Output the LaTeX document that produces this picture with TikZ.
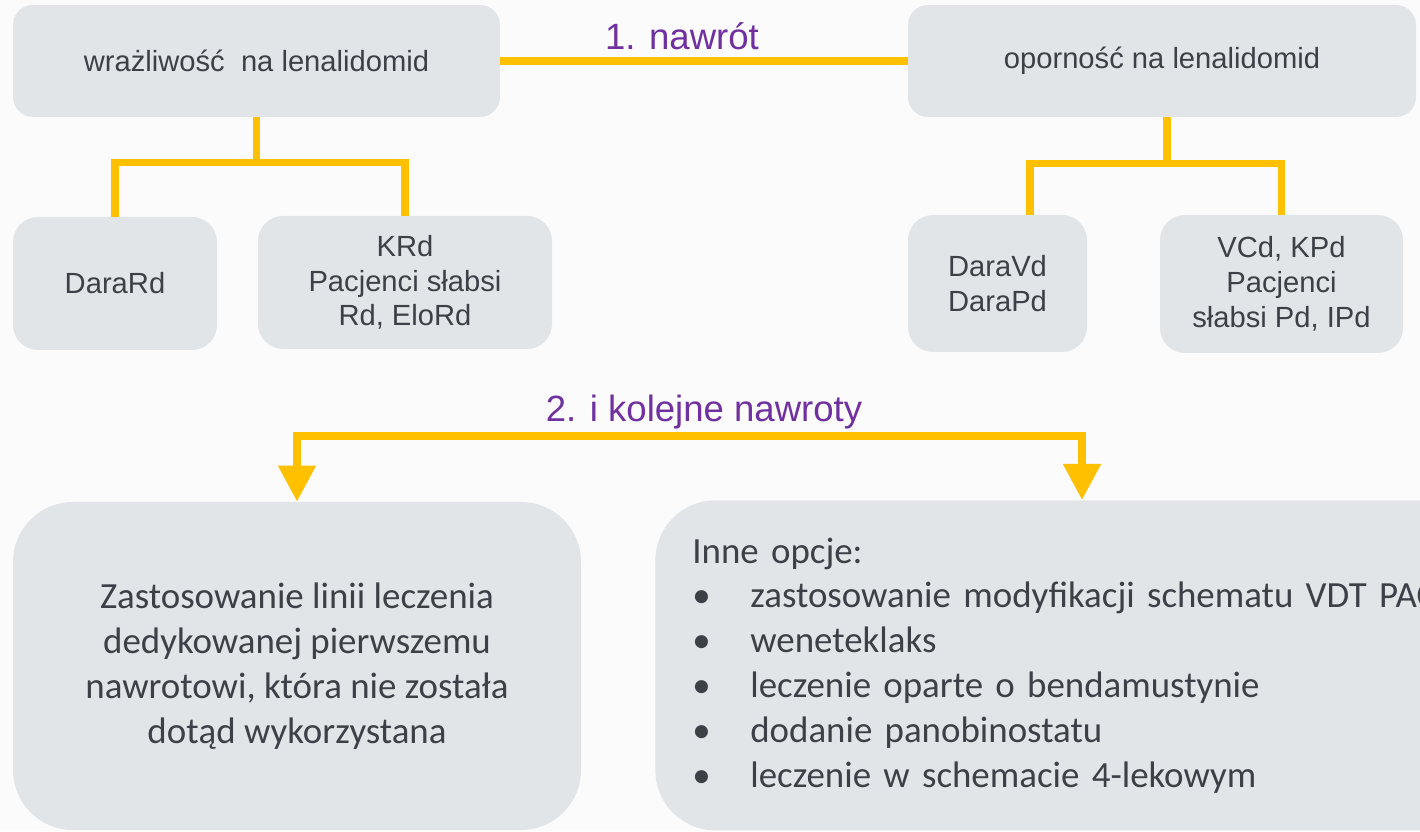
\documentclass[tikz,border=0pt]{standalone}
\usepackage{fontspec}
\setmainfont{Liberation Sans}
\newfontfamily\calibri{Carlito}
\usetikzlibrary{arrows.meta}

\definecolor{boxgray}{HTML}{E2E5E8}
\definecolor{inkgray}{HTML}{3C4047}
\definecolor{lineyellow}{HTML}{FFC000}
\definecolor{relapsepurple}{HTML}{7030A0}
\definecolor{pagebg}{HTML}{FBFBFB}

\begin{document}
\begin{tikzpicture}[
    lenbox/.style={rectangle, rounded corners=0.4cm, fill=boxgray, text=inkgray, align=center, inner sep=0pt, font=\fontsize{16.6}{19.8}\selectfont},
    regimen/.style={lenbox, rounded corners=0.5cm},
    bigbox/.style={rectangle, rounded corners=1.2cm, fill=boxgray, text=inkgray, inner sep=0pt, font=\calibri\fontsize{21}{25.5}\selectfont},
    link/.style={draw=lineyellow, line width=4pt},
    fork/.style={draw=lineyellow, line width=4.5pt, {Triangle[length=0.72cm,width=0.72cm]}-{Triangle[length=0.72cm,width=0.72cm]}},
    relapse/.style={text=relapsepurple, font=\fontsize{20.8}{25}\selectfont}
]

% tlo
\useasboundingbox (0,0) rectangle (28.4,16.62);
\clip (0,0) rectangle (28.4,16.62);
\fill[pagebg] (0,0) rectangle (28.4,16.62);

% gorny rzad
\node[lenbox, minimum width=9.74cm, minimum height=2.24cm] (wraz) at (5.13,15.40) {wrażliwość~ na lenalidomid};
\node[lenbox, minimum width=10.16cm, minimum height=2.24cm] (opor) at (23.24,15.40) {oporność na lenalidomid};

% schematy leczenia
\node[regimen, minimum width=4.08cm, minimum height=2.66cm] (darard) at (2.30,10.95) {DaraRd};
\node[regimen, minimum width=5.88cm, minimum height=2.66cm] (krd) at (8.10,10.97) {KRd\\ Pacjenci słabsi\\ Rd, EloRd};
\node[regimen, minimum width=3.58cm, minimum height=2.74cm] (daravd) at (19.95,10.95) {DaraVd\\ DaraPd};
\node[regimen, minimum width=4.86cm, minimum height=2.76cm] (vcd) at (25.63,10.94) {VCd, KPd\\ Pacjenci\\ słabsi Pd, IPd};

% dolny rzad
\node[bigbox, minimum width=11.36cm, minimum height=6.56cm, align=center] (dalej) at (5.94,3.30) {Zastosowanie linii leczenia\\ dedykowanej pierwszemu\\ nawrotowi, która nie została\\ dotąd wykorzystana};
\node[bigbox, anchor=north west, minimum height=6.6cm, text width=16cm, inner xsep=0.74cm, align=left] (inne) at (13.10,6.62) {Inne opcje:\\
\makebox[1.16cm][l]{\textbullet}zastosowanie modyfikacji schematu VDT PACE\\
\makebox[1.16cm][l]{\textbullet}weneteklaks\\
\makebox[1.16cm][l]{\textbullet}leczenie oparte o bendamustynie\\
\makebox[1.16cm][l]{\textbullet}dodanie panobinostatu\\
\makebox[1.16cm][l]{\textbullet}leczenie w schemacie 4-lekowym};

% 1. nawrot
\draw[link] (wraz) -- (opor);
\node[relapse, anchor=base] (pierwszy) at (13.64,15.62) {1. nawrót};

% rozgalezienia
\draw[link] (wraz.south) -- ++(0,-0.90) coordinate (wfork);
\draw[link] (darard.north) |- (wfork) -| (krd.north);
\draw[link] ([xshift=0.1cm]opor.south) -- ++(0,-0.92) coordinate (ofork);
\draw[link] ([xshift=0.65cm]daravd.north) |- (ofork) -| (vcd.north);

% 2. i kolejne nawroty
\coordinate (split) at (13.78,7.90);
\draw[fork] (dalej.north) |- (split) -| ([xshift=8.54cm]inne.north west);
\node[relapse, anchor=base] (kolejne) at (14.08,8.18) {2. i kolejne nawroty};

\end{tikzpicture}
\end{document}
